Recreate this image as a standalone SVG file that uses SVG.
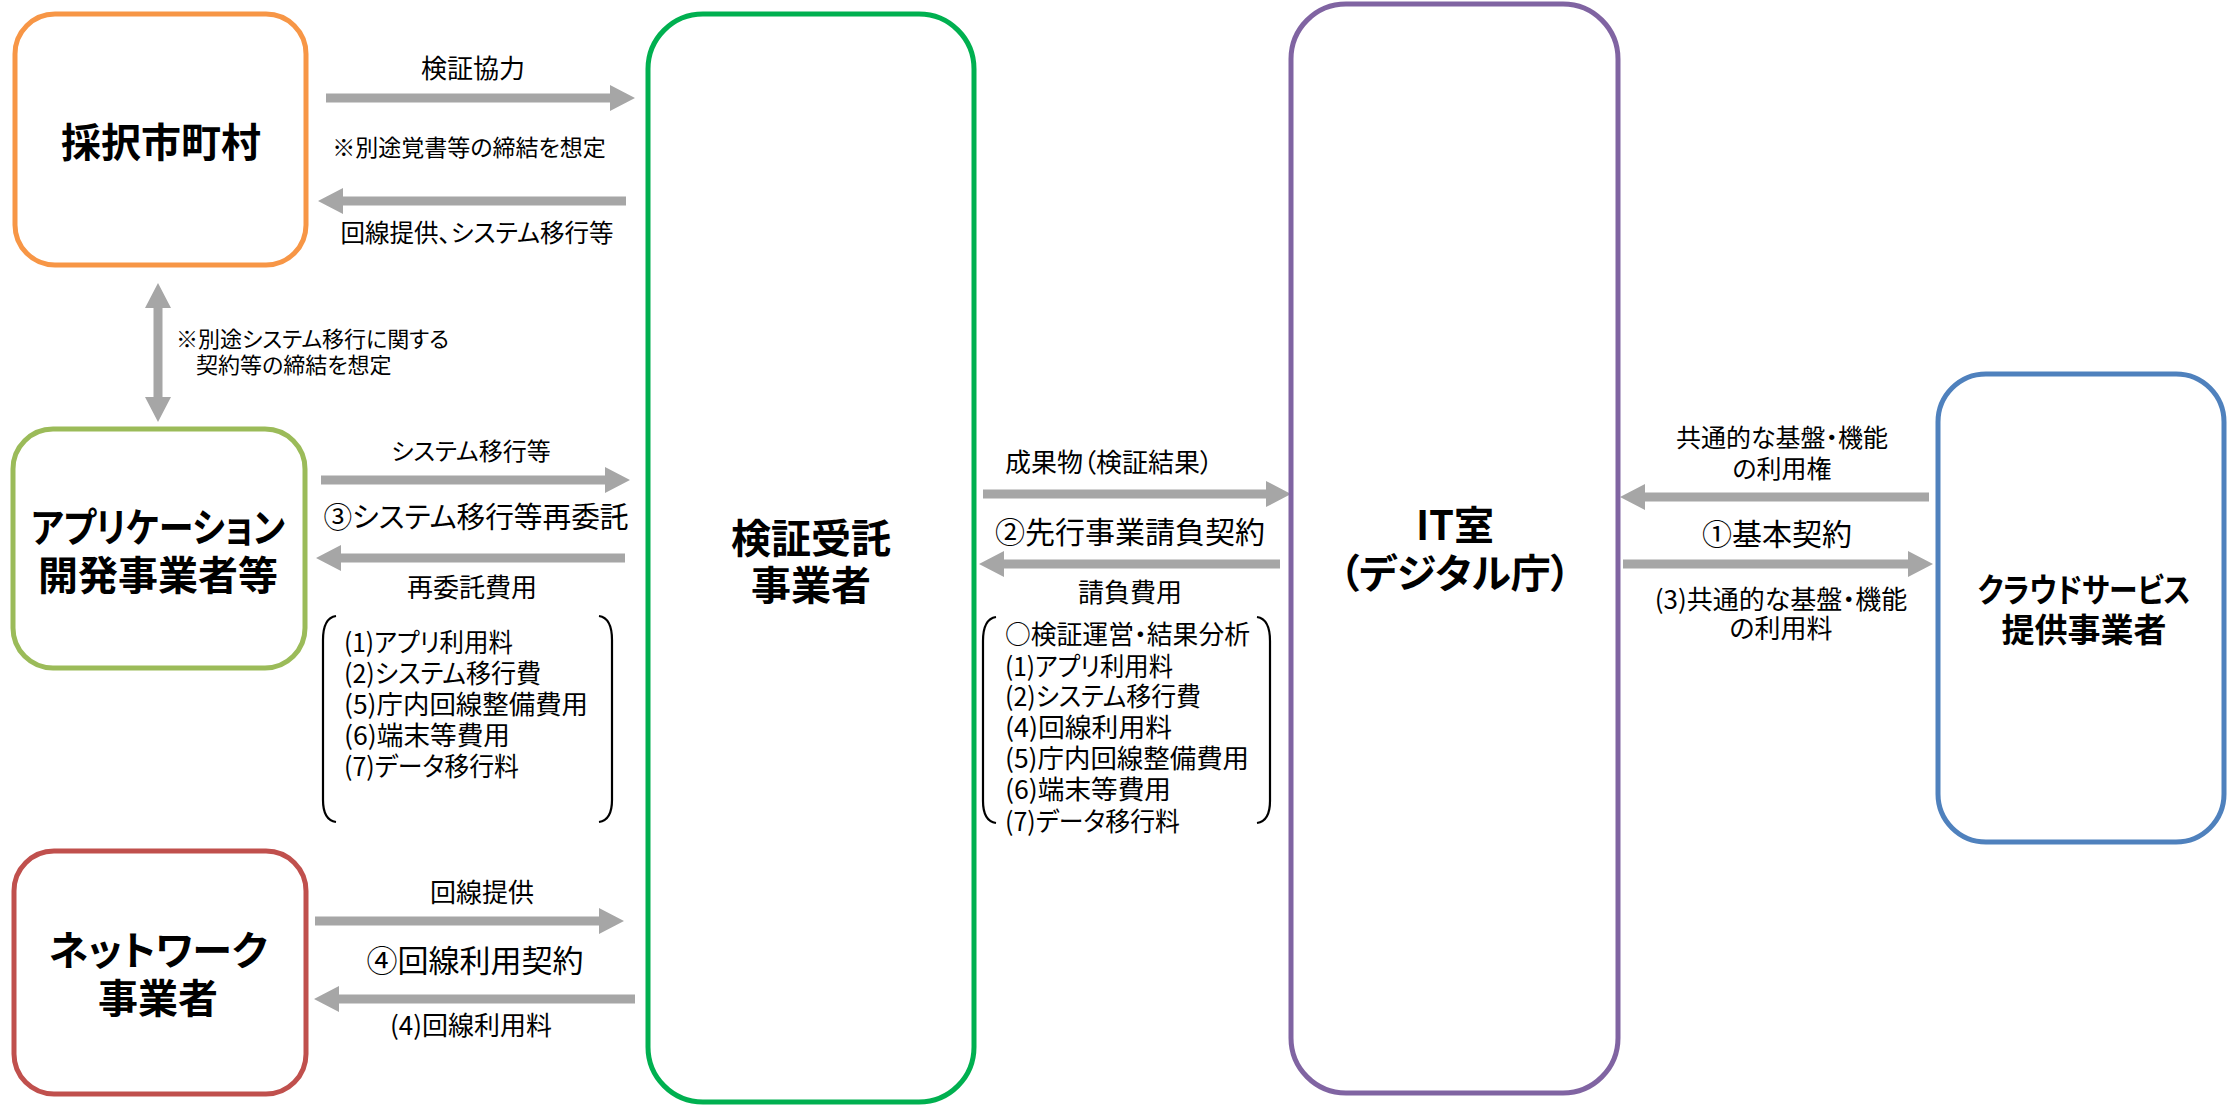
<svg xmlns="http://www.w3.org/2000/svg" width="2228" height="1105" viewBox="0 0 2228 1105">
<style>
text{font-family:"Noto Sans CJK JP","Noto Sans",sans-serif;fill:#000;font-feature-settings:"palt" 1;}
.node{fill:#fff;stroke-width:5;}
.t{font-weight:bold;font-size:40px;text-anchor:middle;}
.l{font-size:26px;text-anchor:middle;}
.b{font-size:30px;text-anchor:middle;}
.s{font-size:22px;}
.li{font-size:26px;}
.arr{fill:#A6A6A6;}
.br{fill:none;stroke:#000;stroke-width:2.2;}
</style>
<rect width="2228" height="1105" fill="#fff"/>

<g id="connectors">
<path class="arr" d="M326,93.5H610V85L635,98L610,111V102.5H326Z"/>
<path class="arr" d="M626,196.5H343V188L318,201L343,214V205.5H626Z"/>
<path class="arr" d="M153.5,308H145L158,283L171,308H162.5V397H171L158,422L145,397H153.5Z"/>
<path class="arr" d="M321,475.5H605V467L630,480L605,493V484.5H321Z"/>
<path class="arr" d="M625,553.5H341V545L316,558L341,571V562.5H625Z"/>
<path class="arr" d="M315,916.5H599V908L624,921L599,934V925.5H315Z"/>
<path class="arr" d="M635,994.5H339V986L314,999L339,1012V1003.5H635Z"/>
<path class="arr" d="M983,489.5H1266V481L1291,494L1266,507V498.5H983Z"/>
<path class="arr" d="M1280,559.5H1004V551L979,564L1004,577V568.5H1280Z"/>
<path class="arr" d="M1929,492.5H1645V484L1620,497L1645,510V501.5H1929Z"/>
<path class="arr" d="M1623,559.5H1908V551L1933,564L1908,577V568.5H1623Z"/>
</g>

<g id="node-saitaku">
<rect class="node" x="15" y="14" width="291" height="251" rx="40" stroke="#F79646"/>
<text class="t" x="161" y="157">採択市町村</text>
</g>

<g id="node-app">
<rect class="node" x="13" y="429" width="292" height="239" rx="40" stroke="#9BBB59"/>
<text class="t"><tspan x="158" y="542" textLength="254" lengthAdjust="spacingAndGlyphs">アプリケーション</tspan><tspan x="158" y="590">開発事業者等</tspan></text>
</g>

<g id="node-network">
<rect class="node" x="14" y="851" width="292" height="243" rx="40" stroke="#C0504D"/>
<text class="t"><tspan x="158" y="965">ネットワーク</tspan><tspan x="158" y="1013">事業者</tspan></text>
</g>

<g id="node-kensho">
<rect class="node" x="648" y="14" width="326" height="1088" rx="55" stroke="#00B050"/>
<text class="t"><tspan x="811" y="553">検証受託</tspan><tspan x="811" y="600">事業者</tspan></text>
</g>

<g id="node-it">
<rect class="node" x="1291" y="4" width="327" height="1089" rx="55" stroke="#8064A2"/>
<text class="t"><tspan x="1455" y="540">IT室</tspan><tspan x="1455" y="588">（デジタル庁）</tspan></text>
</g>

<g id="node-cloud">
<rect class="node" x="1938" y="374" width="286" height="468" rx="48" stroke="#4F81BD" stroke-width="6"/>
<text class="t" style="font-size:33px"><tspan x="2084" y="602" textLength="213" lengthAdjust="spacingAndGlyphs">クラウドサービス</tspan><tspan x="2084" y="642">提供事業者</tspan></text>
</g>

<g id="labels">
<text class="l" x="473" y="78">検証協力</text>
<text class="l" x="469" y="156" style="font-size:23px">※別途覚書等の締結を想定</text>
<text class="l" x="477" y="242" style="font-size:24.5px">回線提供、システム移行等</text>
<text class="s"><tspan x="176" y="347">※別途システム移行に関する</tspan><tspan x="196" y="373">契約等の締結を想定</tspan></text>
<text class="l" x="471" y="460" style="font-size:24px">システム移行等</text>
<text class="b" x="476" y="528" style="font-size:29px" textLength="305" lengthAdjust="spacingAndGlyphs">③システム移行等再委託</text>
<text class="l" x="472" y="597">再委託費用</text>
<text class="l" x="482" y="902">回線提供</text>
<text class="b" x="475" y="972" style="font-size:31px">④回線利用契約</text>
<text class="l" x="471" y="1035">(4)回線利用料</text>
<text x="1005" y="472" style="font-size:26px">成果物（検証結果）</text>
<text class="b" x="1130" y="543">②先行事業請負契約</text>
<text class="l" x="1130" y="602">請負費用</text>
<text class="l" style="font-size:25px"><tspan x="1782" y="447">共通的な基盤・機能</tspan><tspan x="1782" y="478">の利用権</tspan></text>
<text class="b" x="1777" y="545">①基本契約</text>
<text class="l" style="font-size:26px"><tspan x="1781" y="609">(3)共通的な基盤・機能</tspan><tspan x="1781" y="638">の利用料</tspan></text>
</g>

<g id="list-app">
<path class="br" d="M336,616Q323,618 323,640V800Q323,820 336,822"/>
<path class="br" d="M599,616Q612,618 612,640V800Q612,820 599,822"/>
<text class="li"><tspan x="344" y="652" textLength="169" lengthAdjust="spacingAndGlyphs">(1)アプリ利用料</tspan><tspan x="344" y="683" textLength="197" lengthAdjust="spacingAndGlyphs">(2)システム移行費</tspan><tspan x="344" y="714" textLength="244" lengthAdjust="spacingAndGlyphs">(5)庁内回線整備費用</tspan><tspan x="344" y="745" textLength="166" lengthAdjust="spacingAndGlyphs">(6)端末等費用</tspan><tspan x="344" y="776" textLength="175" lengthAdjust="spacingAndGlyphs">(7)データ移行料</tspan></text>
</g>

<g id="list-it">
<path class="br" d="M996,617Q983,619 983,641V801Q983,821 996,823"/>
<path class="br" d="M1257,617Q1270,619 1270,641V801Q1270,821 1257,823"/>
<text class="li"><tspan x="1005" y="644" textLength="245" lengthAdjust="spacingAndGlyphs">○検証運営・結果分析</tspan><tspan x="1005" y="676" textLength="168" lengthAdjust="spacingAndGlyphs">(1)アプリ利用料</tspan><tspan x="1005" y="706" textLength="196" lengthAdjust="spacingAndGlyphs">(2)システム移行費</tspan><tspan x="1005" y="737" textLength="167" lengthAdjust="spacingAndGlyphs">(4)回線利用料</tspan><tspan x="1005" y="768" textLength="244" lengthAdjust="spacingAndGlyphs">(5)庁内回線整備費用</tspan><tspan x="1005" y="799" textLength="166" lengthAdjust="spacingAndGlyphs">(6)端末等費用</tspan><tspan x="1005" y="831" textLength="175" lengthAdjust="spacingAndGlyphs">(7)データ移行料</tspan></text>
</g>
</svg>
